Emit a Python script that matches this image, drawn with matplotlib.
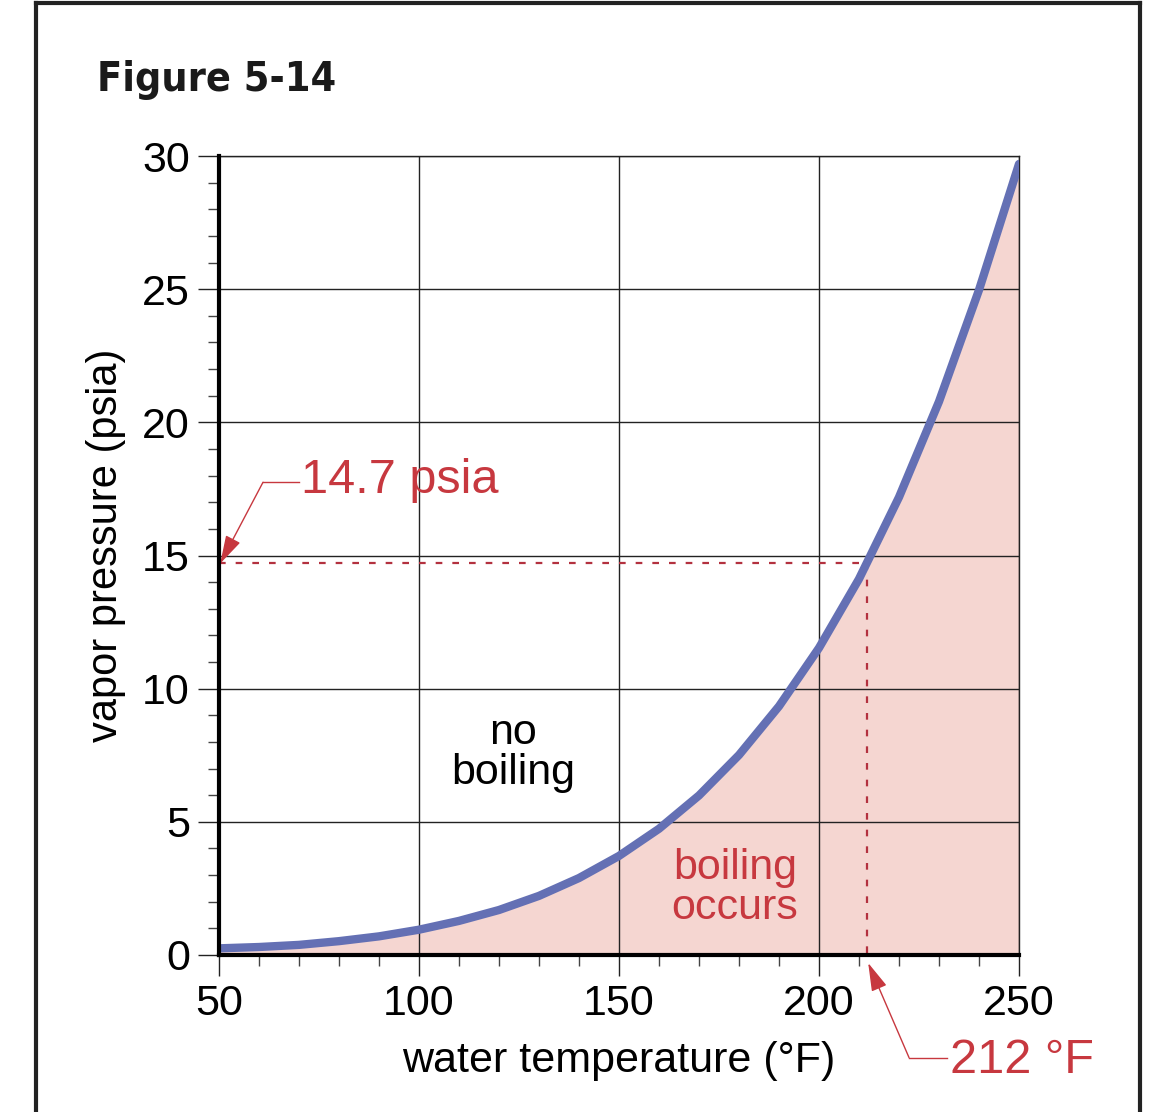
import numpy as np
import matplotlib
matplotlib.use("Agg")
import matplotlib.pyplot as plt
from matplotlib.lines import Line2D

plt.rcParams['font.family'] = ['Liberation Sans', 'DejaVu Sans']

# vapor pressure of water
temp_f = [50, 60, 70, 80, 90, 100, 110, 120, 130, 140, 150,
          160, 170, 180, 190, 200, 210, 220, 230, 240, 250]
psia = [0.25, 0.30, 0.38, 0.52, 0.70, 0.95, 1.28, 1.69, 2.22, 2.89, 3.72,
        4.74, 5.99, 7.51, 9.34, 11.53, 14.12, 17.19, 20.78, 24.97, 29.7]

boil_temp = 212
atm_psia = 14.7
x_ticks = [50, 100, 150, 200, 250]
y_ticks = [0, 5, 10, 15, 20, 25, 30]

red = '#c7383f'
dot_red = '#b3313f'
blue = '#6470b4'
pink = '#f5d6d1'

fig = plt.figure(figsize=(11.7, 11.12), dpi=100)
ax = fig.add_axes([219/1170, 157/1112, 800/1170, 799/1112])

ax.fill_between(temp_f, psia, 0, color=pink, lw=0, zorder=1)
ax.plot(temp_f, psia, color=blue, lw=6, solid_capstyle='round', zorder=4)

# dotted guide lines
ax.plot([50, boil_temp], [atm_psia, atm_psia], color=dot_red, lw=1.6,
        ls=(0, (3, 4.5)), zorder=3)
ax.plot([boil_temp, boil_temp], [atm_psia, 0], color=dot_red, lw=1.6,
        ls=(0, (3, 4.5)), zorder=3)

ax.set_xlim(50, 250)
ax.set_ylim(0, 30)
ax.set_xticks(x_ticks)
ax.set_yticks(y_ticks)
ax.set_xticks(np.arange(50, 251, 10), minor=True)
ax.set_yticks(np.arange(0, 31, 1), minor=True)
ax.grid(True, which='major', color='#222222', lw=1.0)

for s in ['top', 'right']:
    ax.spines[s].set_linewidth(1.0)
    ax.spines[s].set_color('#222222')
for s in ['left', 'bottom']:
    ax.spines[s].set_linewidth(3)
    ax.spines[s].set_zorder(5)

ax.tick_params(which='major', length=15, width=1.0, color='#222222',
               labelsize=31, pad=6)
ax.tick_params(which='minor', length=8, width=1.0, color='#444444')

ax.set_xlabel('water temperature (°F)', fontsize=31, labelpad=12)
ax.set_ylabel('vapor pressure (psia)', fontsize=30)
ax.yaxis.set_label_coords(-0.116, 0.513)

ax.text(123.5, 7.6, 'no\nboiling', fontsize=31, ha='center', va='center',
        linespacing=1.0, zorder=6)
ax.text(179, 2.5, 'boiling\noccurs', fontsize=31, ha='center', va='center',
        color=red, linespacing=1.0, zorder=6)

arrow = dict(arrowstyle='-|>,head_length=0.7,head_width=0.2',
             color=red, lw=1.0, shrinkA=0, shrinkB=0, mutation_scale=25)

# 14.7 psia callout
ax.text(70.6, 17.8, '14.7 psia', fontsize=35, color=red, va='center',
        ha='left')
ax.plot([61, 70], [17.75, 17.75], color=red, lw=1.0, clip_on=False)
ax.annotate('', xy=(50.3, atm_psia), xytext=(61, 17.75),
            arrowprops=arrow, annotation_clip=False)

# 212 F callout
ax.text(232.7, -3.95, '212 °F', fontsize=35, color=red, va='center',
        ha='left', clip_on=False)
ax.plot([222.5, 232], [-3.85, -3.85], color=red, lw=1.0, clip_on=False)
ax.annotate('', xy=(boil_temp + 0.3, -0.3), xytext=(222.5, -3.85),
            arrowprops=arrow, annotation_clip=False)

fig.text(97/1170, 1 - 80/1112, 'Figure 5-14', fontsize=29.5, fontweight='heavy',
         fontstretch='condensed', family='DejaVu Sans', va='center',
         color='#1a1a1a')

# page frame
fig.add_artist(Line2D([36/1170, 36/1170], [0, 1 - 3/1112], color='#222222', lw=3))
fig.add_artist(Line2D([1140/1170, 1140/1170], [0, 1 - 3/1112], color='#222222', lw=3))
fig.add_artist(Line2D([36/1170, 1140/1170], [1 - 3/1112, 1 - 3/1112],
                      color='#222222', lw=3))

fig.savefig('out.png', dpi=100)
